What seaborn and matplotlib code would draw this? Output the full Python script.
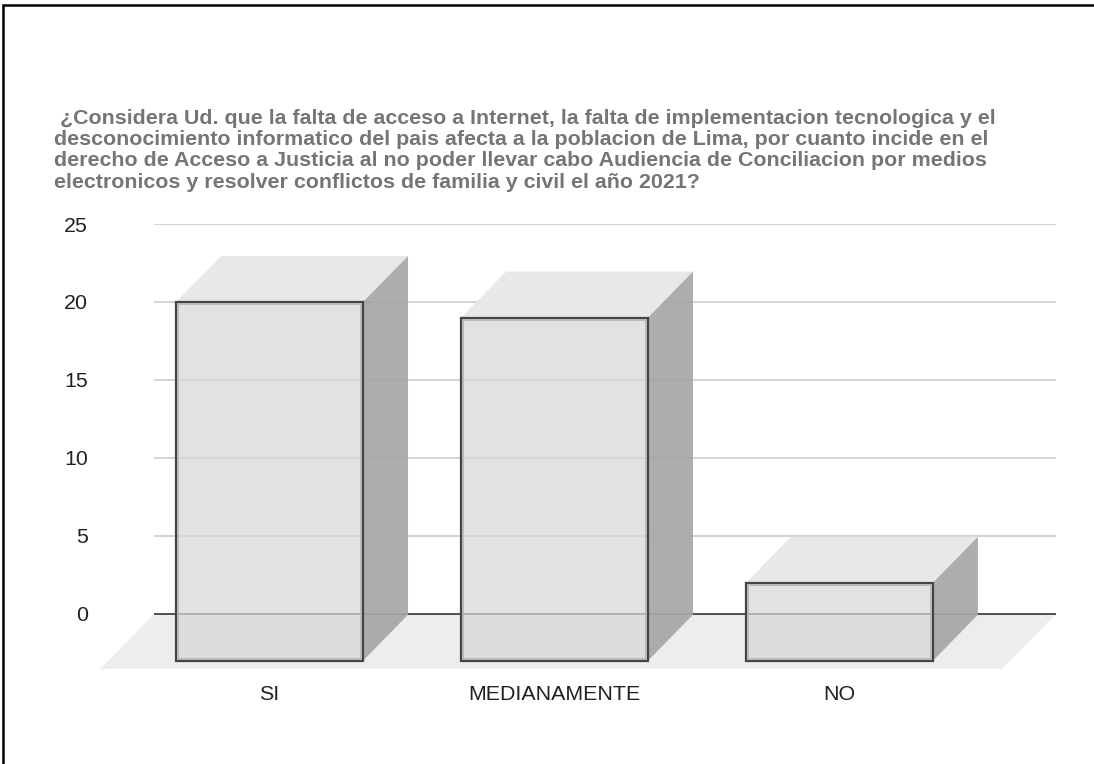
import matplotlib
matplotlib.use("Agg")
import matplotlib.pyplot as plt
import seaborn as sns
from matplotlib.lines import Line2D
from matplotlib.patches import Polygon, Rectangle

categories = ["SI", "MEDIANAMENTE", "NO"]
values = [20, 19, 2]
y_ticks = [0, 5, 10, 15, 20, 25]
title_lines = [
    " ¿Considera Ud. que la falta de acceso a Internet, la falta de implementacion tecnologica y el",
    "desconocimiento informatico del pais afecta a la poblacion de Lima, por cuanto incide en el",
    "derecho de Acceso a Justicia al no poder llevar cabo Audiencia de Conciliacion por medios",
    "electronicos y resolver conflictos de familia y civil el año 2021?",
]

# front faces start below zero, the "3d" depth brings them back up to the axis
base = -3
depth_x = 0.158
depth_y = 2.95
floor_y = -3.53

sns.set_theme(style="white", font="Liberation Sans")

W, H = 1094, 764
fig = plt.figure(figsize=(W / 100, H / 100), dpi=100)
# axes box in pixels: x 100..1056, y 224..669
ax = fig.add_axes([100 / W, 1 - 669 / H, 956 / W, 445 / H])

heights = [v - base for v in values]
sns.barplot(x=categories, y=heights, bottom=base, width=0.656, color="#d7d7d7",
            saturation=1, edgecolor="#444444", linewidth=1.6, ax=ax, zorder=5)

ax.set_xlim(-0.595, 2.76)
ax.set_ylim(floor_y, 25)
x0, x1 = -0.405, 2.76

# floor and grid
ax.add_patch(Polygon([(-0.595, floor_y), (x0, 0), (x1, 0), (x1 - 0.19, floor_y)],
                     facecolor="#ededed", edgecolor="none", zorder=0))
ax.hlines([t for t in y_ticks if t != 0], x0, x1, color="#cccccc", linewidth=1.2, zorder=1)
ax.hlines(0, x0, x1, color="#333333", linewidth=1.2, zorder=1)

# top, side and inner outline of each bar
for bar in [p for p in ax.patches if isinstance(p, Rectangle)]:
    # see-through face, solid edge
    bar.set_facecolor((0.843, 0.843, 0.843, 0.72))
    l, b = bar.get_x(), bar.get_y()
    w, h = bar.get_width(), bar.get_height()
    r, t = l + w, b + h
    ax.add_patch(Polygon([(l, t), (l + depth_x, t + depth_y), (r + depth_x, t + depth_y), (r, t)],
                         facecolor="#e8e8e8", edgecolor="none", zorder=4))
    ax.add_patch(Polygon([(r, b), (r + depth_x, b + depth_y), (r + depth_x, t + depth_y), (r, t)],
                         facecolor="#a6a6a6", alpha=0.92, edgecolor="none", zorder=4))
    pad_x, pad_y = 2 / 285, 2 / 15.6
    ax.add_patch(Rectangle((l + pad_x, b + pad_y), w - 2 * pad_x, h - 2 * pad_y, fill=False,
                           edgecolor="#b4b4b4", linewidth=1.2, zorder=6))

ax.set_yticks(y_ticks)
ax.set_xlabel("")
ax.set_ylabel("")
ax.tick_params(axis="y", length=0, pad=8.6, labelsize=15.4, labelcolor="#222222")
ax.tick_params(axis="x", length=0, pad=11.5, labelsize=15.4, labelcolor="#222222")
sns.despine(ax=ax, left=True, bottom=True)

# title, one text per line
for i, line in enumerate(title_lines):
    fig.text(54 / W, 1 - (118 + i * 21.4) / H, line, fontsize=15.4, fontweight="bold",
             color="#757575", va="center", ha="left")

# black frame of the screenshot, top and left only
fig.add_artist(Line2D([3 / W, 3 / W], [0, 1 - 5 / H], color="black", linewidth=1.8))
fig.add_artist(Line2D([3 / W, 1], [1 - 5 / H, 1 - 5 / H], color="black", linewidth=1.8))

fig.savefig("out.png", dpi=100)
